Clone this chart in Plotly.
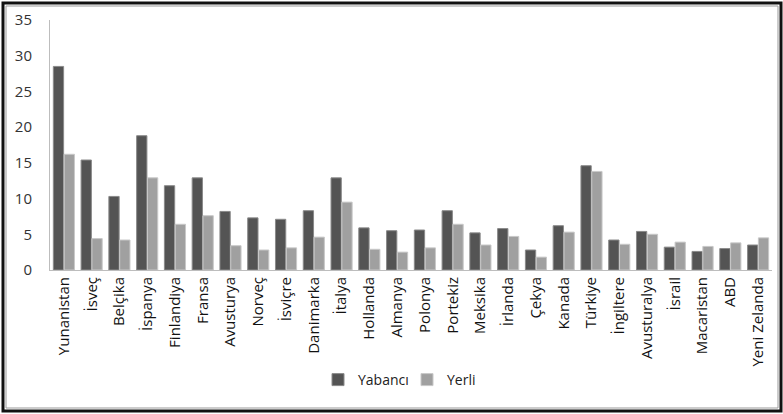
import plotly.graph_objects as go

categories = ["Yunanistan", "İsveç", "Belçika", "İspanya", "Finlandiya", "Fransa",
              "Avusturya", "Norveç", "İsviçre", "Danimarka", "İtalya", "Hollanda",
              "Almanya", "Polonya", "Portekiz", "Meksika", "İrlanda", "Çekya",
              "Kanada", "Türkiye", "İngiltere", "Avusturalya", "İsrail", "Macaristan",
              "ABD", "Yeni Zelanda"]
yabanci = [28.5, 15.4, 10.3, 18.8, 11.8, 12.9, 8.2, 7.3, 7.1, 8.3, 12.9, 5.9,
           5.5, 5.6, 8.3, 5.2, 5.8, 2.8, 6.2, 14.6, 4.2, 5.4, 3.2, 2.6, 3.0, 3.5]
yerli = [16.2, 4.4, 4.2, 12.9, 6.4, 7.6, 3.4, 2.8, 3.1, 4.6, 9.5, 2.9,
         2.5, 3.1, 6.4, 3.5, 4.7, 1.8, 5.3, 13.8, 3.6, 5.0, 3.9, 3.3, 3.8, 4.5]
y_ticks = [0, 5, 10, 15, 20, 25, 30, 35]

FONT = "Open Sans"

fig = go.Figure()
fig.add_trace(go.Bar(name="Yabancı", x=categories, y=yabanci,
                     marker=dict(color="#545454", line=dict(color="#8a8a8a", width=1))))
fig.add_trace(go.Bar(name="Yerli", x=categories, y=yerli,
                     marker=dict(color="#a0a0a0", line=dict(color="#c8c8c8", width=1))))

# pixel -> paper helpers (plot area: x 50..772, y 20..270)
L, R, T, B = 50, 11, 20, 144
W, H = 783, 414
pw, ph = W - L - R, H - T - B
def px(x):
    return (x - L) / pw
def py(y):
    return (H - B - y) / ph

fig.update_layout(
    width=W, height=H,
    margin=dict(l=L, r=R, t=T, b=B, autoexpand=False),
    paper_bgcolor="white", plot_bgcolor="white",
    barmode="group", bargap=0.22, bargroupgap=0.05,
    font=dict(family=FONT, color="#222222"),
    showlegend=True,
    legend=dict(orientation="h", x=px(318), xanchor="left", y=py(380), yanchor="middle",
                font=dict(size=14, family=FONT, color="#222"), itemwidth=30,
                entrywidth=44, entrywidthmode="pixels",
                traceorder="normal"),
    xaxis=dict(tickangle=-90, tickfont=dict(size=15, family=FONT, color="#111"),
               showline=True, linecolor="#bdbdbd", linewidth=1, ticks="",
               showgrid=False, automargin=False),
    yaxis=dict(range=[0, 35], tickvals=y_ticks, tickfont=dict(size=15, family=FONT, color="#333"),
               showline=True, linecolor="#bdbdbd", linewidth=1, showgrid=False,
               zeroline=False, ticks="", ticklabelstandoff=14, automargin=False),
    shapes=[
        dict(type="rect", xref="paper", yref="paper",
             x0=px(3), x1=px(781), y0=py(411), y1=py(3),
             line=dict(color="#111", width=3), layer="above"),
        dict(type="rect", xref="paper", yref="paper",
             x0=px(6), x1=px(778), y0=py(408), y1=py(6),
             line=dict(color="#999", width=1), layer="above"),
    ],
)

fig.write_html("out.html", config={"displayModeBar": False},
               post_script="document.body.style.margin='0';")
